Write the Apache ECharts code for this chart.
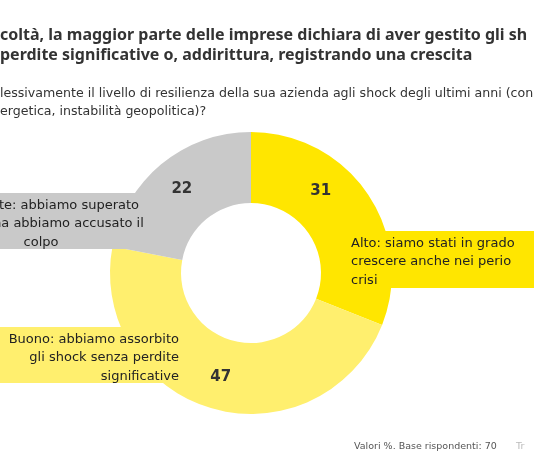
<!DOCTYPE html><html><head><meta charset="utf-8"><script src="https://cdn.jsdelivr.net/npm/echarts@6/dist/echarts.min.js"></script>
<style>html,body{margin:0;padding:0;background:#fff}#c{width:534px;height:462px}</style></head><body><div id="c"></div><script>
const categories=["Alto: siamo stati in grado di crescere anche nei periodi di crisi","Buono: abbiamo assorbito gli shock senza perdite significative","Sufficiente: abbiamo superato la crisi ma abbiamo accusato il colpo"];
const values=[31,47,22];
const colors=['#FFE600','#FFEF6E','#C9C9C9'];
const titleLines=["coltà, la maggior parte delle imprese dichiara di aver gestito gli sh","perdite significative o, addirittura, registrando una crescita"];
const questionLines=["lessivamente il livello di resilienza della sua azienda agli shock degli ultimi anni (con","ergetica, instabilità geopolitica)?"];
const F='DejaVu Sans';
const chart=echarts.init(document.getElementById('c'));
const txt=(x,y,t,o)=>({type:'text',left:x,top:y,z:10,style:Object.assign({text:t,font:'13px "'+F+'"',fill:'#222'},o||{})});
chart.setOption({animation:false,
graphic:[
txt(0,27,titleLines[0],{font:'bold 16px "Noto Sans"',fill:'#333'}),
txt(0,47,titleLines[1],{font:'bold 16px "Noto Sans"',fill:'#333'}),
txt(0,87,questionLines[0],{font:'12.6px "'+F+'"',fill:'#333'}),
txt(0,105,questionLines[1],{font:'12.6px "'+F+'"',fill:'#333'}),
{type:'rect',shape:{x:0,y:193,width:150,height:56},style:{fill:colors[2]},z:5},
{type:'rect',shape:{x:347,y:231,width:187,height:57},style:{fill:colors[0]},z:5},
{type:'rect',shape:{x:0,y:327,width:180,height:56},style:{fill:colors[1]},z:5},
{type:'text',x:41,y:196,z:10,style:{text:"Sufficiente: abbiamo superato\nla crisi, ma abbiamo accusato il\ncolpo",font:'13px "'+F+'"',fill:'#222',align:'center',lineHeight:18.5}},
{type:'text',x:351,y:234,z:10,style:{text:"Alto: siamo stati in grado\ncrescere anche nei perio\ncrisi",font:'13px "'+F+'"',fill:'#222',lineHeight:18.5}},
{type:'text',x:179,y:330,z:10,style:{text:"Buono: abbiamo assorbito\ngli shock senza perdite\nsignificative",font:'13px "'+F+'"',fill:'#222',align:'right',lineHeight:18.5}},
txt(354,442,"Valori %. Base rispondenti: 70",{font:'9.5px "'+F+'"',fill:'#555'}),
txt(516,442,"Tr",{font:'9.5px "'+F+'"',fill:'#bbb'})
],
series:[{type:'pie',center:[251,273],radius:[70,141],startAngle:90,clockwise:true,z:1,
label:{show:true,position:'inside',formatter:'{c}',fontFamily:F,fontWeight:'bold',fontSize:15,color:'#333'},
labelLine:{show:false},emphasis:{disabled:true},
data:categories.map((n,i)=>({name:n,value:values[i],itemStyle:{color:colors[i]},label:i===0?{offset:[-20,-21]}:{}}))}]
});
</script></body></html>
